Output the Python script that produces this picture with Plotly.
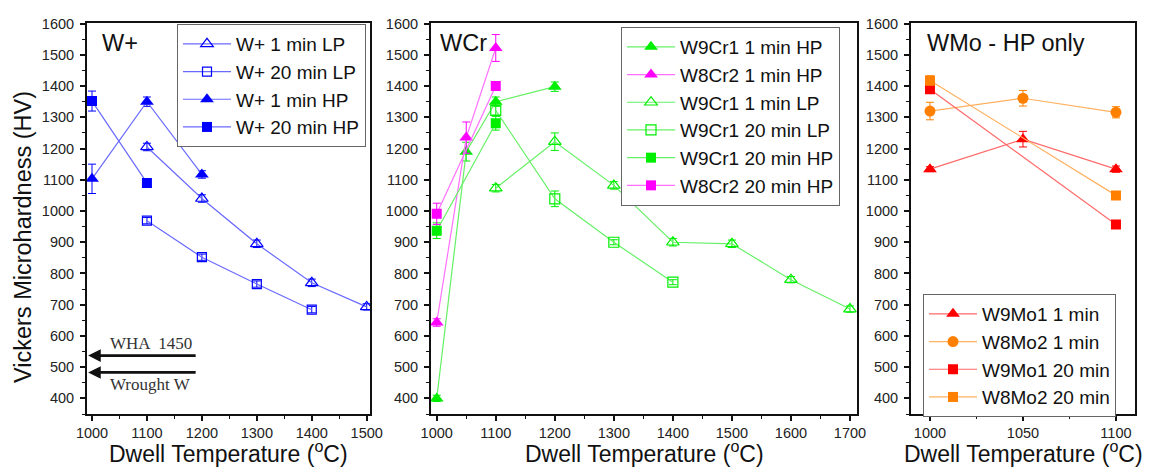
import plotly.graph_objects as go

# ---------------- data ----------------
# Panel 1: W+
wp_1lp_T = [1100, 1200, 1300, 1400, 1500]
wp_1lp_HV = [1205, 1040, 895, 770, 693]
wp_1lp_err = [12, 12, 12, 12, 10]

wp_20lp_T = [1100, 1200, 1300, 1400]
wp_20lp_HV = [969, 852, 766, 684]
wp_20lp_err = [10, 10, 10, 10]

wp_1hp_T = [1000, 1100, 1200]
wp_1hp_HV = [1103, 1350, 1117]
wp_1hp_err = [47, 15, 12]

wp_20hp_T = [1000, 1100]
wp_20hp_HV = [1352, 1090]
wp_20hp_err = [32, 12]

ref_labels = ["WHA  1450", "Wrought W"]
ref_HV = [537, 483]

# Panel 2: WCr
w9cr1_1hp_T = [1000, 1050, 1100, 1200]
w9cr1_1hp_HV = [400, 1190, 1350, 1398]
w9cr1_1hp_err = [10, 30, 15, 15]

w8cr2_1hp_T = [1000, 1050, 1100]
w8cr2_1hp_HV = [643, 1235, 1522]
w8cr2_1hp_err = [12, 50, 43]

w9cr1_1lp_T = [1100, 1200, 1300, 1400, 1500, 1600, 1700]
w9cr1_1lp_HV = [1073, 1222, 1082, 900, 895, 780, 686]
w9cr1_1lp_err = [12, 28, 12, 12, 12, 10, 10]

w9cr1_20lp_T = [1100, 1200, 1300, 1400]
w9cr1_20lp_HV = [1322, 1039, 900, 772]
w9cr1_20lp_err = [15, 25, 8, 8]

w9cr1_20hp_T = [1000, 1100]
w9cr1_20hp_HV = [937, 1281]
w9cr1_20hp_err = [25, 22]

w8cr2_20hp_T = [1000, 1100]
w8cr2_20hp_HV = [991, 1400]
w8cr2_20hp_err = [34, 12]

# Panel 3: WMo
w9mo1_1_T = [1000, 1050, 1100]
w9mo1_1_HV = [1134, 1230, 1134]
w9mo1_1_err = [8, 25, 10]

w8mo2_1_T = [1000, 1050, 1100]
w8mo2_1_HV = [1320, 1361, 1316]
w8mo2_1_err = [28, 25, 18]

w9mo1_20_T = [1000, 1100]
w9mo1_20_HV = [1390, 957]
w9mo1_20_err = [10, 5]

w8mo2_20_T = [1000, 1100]
w8mo2_20_HV = [1418, 1050]
w8mo2_20_err = [15, 5]

panel_titles = ["W+", "WCr", "WMo - HP only"]
x_title = "Dwell Temperature (<sup>o</sup>C)"
y_title = "Vickers Microhardness (HV)"

# ---------------- styling ----------------
FONT = "Liberation Sans, Arial, sans-serif"
WIN_W, WIN_H = 1151, 467
OFF = 8                      # default page body margin
W, H = WIN_W - OFF, WIN_H - OFF


def px(x):
    return (x - OFF) / W


def py(y):
    return 1 - (y - OFF) / H


BLUE, BLUE_L = "#0000ff", "#6a6aff"
GREEN, GREEN_L = "#00ee00", "#66f066"
MAG, MAG_L = "#ff00ff", "#ff70ff"
RED, RED_L = "#ff0000", "#ff6a6a"
ORA, ORA_L = "#ff8000", "#ffb060"

fig = go.Figure()


def add(name, T, HV, err, symbol, mc, lc, ax, legend, size=11):
    open_ = symbol.endswith("-open")
    fig.add_trace(go.Scatter(
        x=T, y=HV, name=name, mode="lines+markers",
        line=dict(color=lc, width=1.2),
        marker=dict(symbol=symbol, size=size, color=mc,
                    line=dict(color=mc, width=1.2 if open_ else 0)),
        error_y=dict(type="data", array=err, color=mc, thickness=1, width=4),
        xaxis="x" + ax, yaxis="y" + ax, legend=legend,
    ))


add("W+ 1 min LP", wp_1lp_T, wp_1lp_HV, wp_1lp_err, "triangle-up-open", BLUE, BLUE_L, "", "legend", 11)
add("W+ 20 min LP", wp_20lp_T, wp_20lp_HV, wp_20lp_err, "square-open", BLUE, BLUE_L, "", "legend", 9)
add("W+ 1 min HP", wp_1hp_T, wp_1hp_HV, wp_1hp_err, "triangle-up", BLUE, BLUE_L, "", "legend", 12)
add("W+ 20 min HP", wp_20hp_T, wp_20hp_HV, wp_20hp_err, "square", BLUE, BLUE_L, "", "legend", 10)

add("W9Cr1 1 min HP", w9cr1_1hp_T, w9cr1_1hp_HV, w9cr1_1hp_err, "triangle-up", GREEN, GREEN_L, "2", "legend2", 12)
add("W8Cr2 1 min HP", w8cr2_1hp_T, w8cr2_1hp_HV, w8cr2_1hp_err, "triangle-up", MAG, MAG_L, "2", "legend2", 12)
add("W9Cr1 1 min LP", w9cr1_1lp_T, w9cr1_1lp_HV, w9cr1_1lp_err, "triangle-up-open", GREEN, GREEN_L, "2", "legend2", 11)
add("W9Cr1 20 min LP", w9cr1_20lp_T, w9cr1_20lp_HV, w9cr1_20lp_err, "square-open", GREEN, GREEN_L, "2", "legend2", 10)
add("W9Cr1 20 min HP", w9cr1_20hp_T, w9cr1_20hp_HV, w9cr1_20hp_err, "square", GREEN, GREEN_L, "2", "legend2", 10)
add("W8Cr2 20 min HP", w8cr2_20hp_T, w8cr2_20hp_HV, w8cr2_20hp_err, "square", MAG, MAG_L, "2", "legend2", 10)

add("W9Mo1 1 min", w9mo1_1_T, w9mo1_1_HV, w9mo1_1_err, "triangle-up", RED, RED_L, "3", "legend3", 12)
add("W8Mo2 1 min", w8mo2_1_T, w8mo2_1_HV, w8mo2_1_err, "circle", ORA, ORA_L, "3", "legend3", 11)
add("W9Mo1 20 min", w9mo1_20_T, w9mo1_20_HV, w9mo1_20_err, "square", RED, RED_L, "3", "legend3", 10)
add("W8Mo2 20 min", w8mo2_20_T, w8mo2_20_HV, w8mo2_20_err, "square", ORA, ORA_L, "3", "legend3", 10)

# pixel geometry (window pixels)
px_x = [(87, 370), (431, 857.3), (911, 1135.3)]
y_top, y_bot = 23.3, 414
ydom = [py(y_bot), py(y_top)]
x_ranges = [[990.9, 1506], [990.3, 1712.4], [989.8, 1110.4]]
x_dticks = [100, 100, 50]

tickfont = dict(family=FONT, size=14.5, color="#222")
axis_common = dict(showline=True, linecolor="#111", linewidth=2, mirror=True,
                   ticks="outside", ticklen=5, tickwidth=1.5, tickcolor="#111",
                   showgrid=False, zeroline=False, tickfont=tickfont,
                   automargin=False)

for i in range(3):
    sfx = "" if i == 0 else str(i + 1)
    x0, x1 = px_x[i]
    fig.update_layout(**{
        "xaxis" + sfx: dict(axis_common, domain=[px(x0), px(x1)], range=x_ranges[i],
                            dtick=x_dticks[i], tick0=1000, anchor="y" + sfx,
                            ticklabelstandoff=0,
                            minor=dict(ticks="outside", ticklen=3, dtick=x_dticks[i] / 2,
                                       tickcolor="#111", tickwidth=1.2)),
        "yaxis" + sfx: dict(axis_common, domain=ydom, range=[350, 1601], dtick=100,
                            tick0=0, anchor="x" + sfx, ticklabelstandoff=3,
                            minor=dict(ticks="outside", ticklen=3, dtick=50,
                                       tickcolor="#111", tickwidth=1.2)),
    })

annotations = []
title_left = [100, 438, 925]
for i in range(3):
    x0, x1 = px_x[i]
    annotations.append(dict(text=panel_titles[i], xref="paper", yref="paper",
                            x=px(title_left[i]), y=py(43), xanchor="left",
                            yanchor="middle", showarrow=False,
                            font=dict(family=FONT, size=23.5, color="#111")))
    annotations.append(dict(text=x_title, xref="paper", yref="paper",
                            x=px((x0 + x1) / 2), y=py(452), xanchor="center",
                            yanchor="middle", showarrow=False,
                            font=dict(family=FONT, size=23, color="#111")))
annotations.append(dict(text=y_title, xref="paper", yref="paper", x=px(23),
                        y=py(237), textangle=-90, xanchor="center",
                        yanchor="middle", showarrow=False,
                        font=dict(family=FONT, size=23.5, color="#111")))

# reference arrows (WHA 1450 and wrought W)
for lbl, hv, dy in zip(ref_labels, ref_HV, [-1, 1]):
    annotations.append(dict(text="", x=993, y=hv, xref="x", yref="y", ax=109, ay=0,
                            showarrow=True, arrowhead=2, arrowsize=0.9, arrowwidth=2.8,
                            arrowcolor="#111"))
    annotations.append(dict(text=lbl, x=1107, y=hv, xref="x", yref="y",
                            yshift=-dy * 12, showarrow=False,
                            font=dict(family="Liberation Serif, Times New Roman, serif",
                                      size=17, color="#333")))

legend_style = dict(bgcolor="white", bordercolor="#666", borderwidth=1,
                    font=dict(family=FONT, size=19, color="#111"),
                    xanchor="left", yanchor="top", tracegroupgap=0,
                    itemsizing="trace", itemwidth=48)

fig.update_layout(
    template="none",
    width=W, height=H, margin=dict(l=0, r=0, t=0, b=0, autoexpand=False),
    paper_bgcolor="white", plot_bgcolor="white",
    annotations=annotations,
    showlegend=True,
    legend=dict(legend_style, x=px(177), y=py(24)),
    legend2=dict(legend_style, x=px(621), y=py(27)),
    legend3=dict(legend_style, x=px(923), y=py(294)),
)

fig.write_html("out.html")
